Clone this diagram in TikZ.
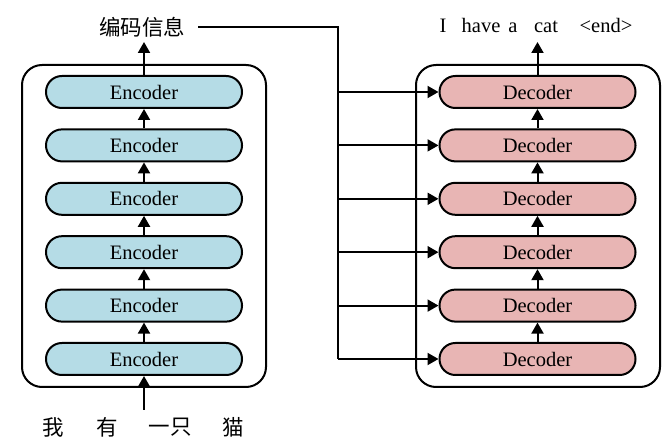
\documentclass[tikz,border=0pt]{standalone}
\usepackage{fontspec}
\setmainfont{Liberation Serif}
\newfontfamily\cjk{Noto Sans CJK SC}
\usetikzlibrary{arrows.meta}
\definecolor{encfill}{HTML}{B5DCE6}
\definecolor{decfill}{HTML}{E8B5B4}
\begin{document}
\begin{tikzpicture}[x=1pt,y=-1pt,
  outerbox/.style={draw, line width=2pt, rounded corners=20pt},
  pill/.style={draw, line width=2pt, rounded corners=15.9pt, minimum width=196pt, minimum height=32pt, inner sep=0pt, font=\fontsize{20.5}{24}\selectfont},
  encbox/.style={pill, fill=encfill},
  decbox/.style={pill, fill=decfill},
  arr/.style={line width=2pt, -{Triangle[length=11pt,width=12pt]}},
  conn/.style={line width=2pt},
  lbl/.style={inner sep=0pt, font=\fontsize{20.5}{24}\selectfont},
  cjklbl/.style={inner sep=0pt, font=\cjk\fontsize{21.5}{24}\selectfont}
]
\useasboundingbox (0,0) rectangle (670,443);
% outer boxes
\draw[outerbox] (22,65) rectangle (266,387);
\draw[outerbox] (416,65) rectangle (660,387);
% encoders and decoders
\foreach \i/\y in {1/92,2/145.4,3/198.8,4/252.2,5/305.6,6/359}{
  \node[encbox] (e\i) at (144,\y) {Encoder};
  \node[decbox] (d\i) at (537.5,\y) {Decoder};
}
\foreach \i/\j in {2/1,3/2,4/3,5/4,6/5}{
  \draw[arr] (e\i.north) -- (e\j.south);
  \draw[arr] (d\i.north) -- (d\j.south);
}
% labels
\node[cjklbl] (enc) at (142,27) {编码信息};
\node[cjklbl] (w1) at (53,427) {我};
\node[cjklbl] (w2) at (107,427) {有};
\node[cjklbl] (w3) at (170,427) {一只};
\node[cjklbl] (w4) at (233,427) {猫};
\node[lbl, anchor=base] (o1) at (443,33) {I};
\node[lbl, anchor=base] (o2) at (481,33) {have};
\node[lbl, anchor=base] (o3) at (513,33) {a};
\node[lbl, anchor=base] (o4) at (546,33) {cat};
\node[lbl, anchor=base] (o5) at (606,33) {<end>};
% arrows in and out
\coordinate (src) at (144,410);
\coordinate (etop) at (144,42);
\coordinate (dtop) at (537.5,42);
\draw[arr] (src) -- (e6.south);
\draw[arr] (e1.north) -- (etop);
\draw[arr] (d1.north) -- (dtop);
% bus
\coordinate (busstart) at (198,27);
\coordinate (bus) at (337.5,27);
\draw[conn] (busstart) -- (bus) -- (bus |- d6.west);
\foreach \i in {1,...,6}{
  \draw[arr] (bus |- d\i.west) -- (d\i.west);
}
\end{tikzpicture}
\end{document}
